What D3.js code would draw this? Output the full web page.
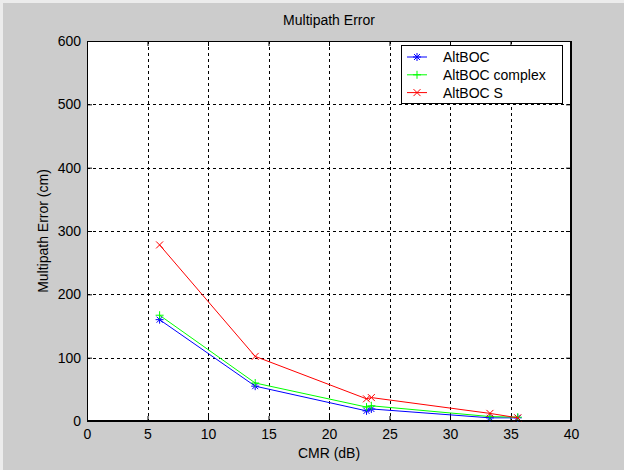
<!DOCTYPE html>
<html><head><meta charset="utf-8">
<script src="https://cdn.jsdelivr.net/npm/d3@7"></script>
<style>body{margin:0;background:#cccccc;}svg{display:block;}</style>
</head><body>
<script>
const cmr = [6.0, 13.9, 23.1, 23.5, 33.3, 35.6];
const altboc = [160, 55, 16, 19, 5, 5];
const altbocComplex = [167, 60, 22, 24, 7, 6];
const altbocS = [278, 102, 35, 37, 12, 5];
const seriesNames = ["AltBOC", "AltBOC complex", "AltBOC S"];
const xTicks = [0, 5, 10, 15, 20, 25, 30, 35, 40];
const yTicks = [0, 100, 200, 300, 400, 500, 600];

const W = 624, H = 470;
const m = {l: 87, r: 571, t: 41, b: 421};
const FONT = "'Liberation Sans', Arial, sans-serif";
const svg = d3.select("body").append("svg").attr("width", W).attr("height", H)
  .style("font-family", FONT);
svg.append("rect").attr("width", W).attr("height", H).attr("fill", "#cccccc");
svg.append("rect").attr("width", W).attr("height", 3).attr("fill", "#ececec");
svg.append("rect").attr("width", 3).attr("height", H).attr("fill", "#ececec");

const x = d3.scaleLinear().domain([0, 40]).range([m.l, m.r]);
const y = d3.scaleLinear().domain([0, 600]).range([m.b, m.t]);

svg.append("rect").attr("x", m.l).attr("y", m.t).attr("width", m.r - m.l).attr("height", m.b - m.t).attr("fill", "#fff");

// grid
const grid = svg.append("g").attr("stroke", "#000").attr("stroke-dasharray", "3,3").attr("stroke-width", 1);
xTicks.slice(1, -1).forEach(v => grid.append("line").attr("x1", Math.round(x(v)) + 0.5).attr("x2", Math.round(x(v)) + 0.5).attr("y1", m.t).attr("y2", m.b));
yTicks.slice(1, -1).forEach(v => grid.append("line").attr("y1", Math.round(y(v)) + 0.5).attr("y2", Math.round(y(v)) + 0.5).attr("x1", m.l).attr("x2", m.r));

// axes
const fs = 14;
const xAxB = svg.append("g").attr("transform", `translate(0,${m.b})`)
  .call(d3.axisBottom(x).tickValues(xTicks).tickSizeInner(-5).tickSizeOuter(0).tickPadding(8));
const xAxT = svg.append("g").attr("transform", `translate(0,${m.t})`)
  .call(d3.axisTop(x).tickValues(xTicks).tickSizeInner(-5).tickSizeOuter(0).tickFormat(""));
const yAxL = svg.append("g").attr("transform", `translate(${m.l},0)`)
  .call(d3.axisLeft(y).tickValues(yTicks).tickSizeInner(-5).tickSizeOuter(0).tickPadding(6));
const yAxR = svg.append("g").attr("transform", `translate(${m.r},0)`)
  .call(d3.axisRight(y).tickValues(yTicks).tickSizeInner(-5).tickSizeOuter(0).tickFormat(""));
[xAxB, xAxT, yAxL, yAxR].forEach(g => {
  g.selectAll("path,line").attr("stroke", "#000");
  g.selectAll("text").attr("fill", "#000").style("font-size", fs + "px").style("font-family", FONT);
});

// data lines
const data = [
  {name: seriesNames[0], vals: altboc, color: "#0000ff", marker: "star"},
  {name: seriesNames[1], vals: altbocComplex, color: "#00ff00", marker: "plus"},
  {name: seriesNames[2], vals: altbocS, color: "#ff0000", marker: "x"}
];
const line = d3.line().x((d, i) => x(cmr[i])).y(d => y(d));
const s = 4;
function marker(g, cx, cy, type, color) {
  const p = [];
  if (type === "plus" || type === "star") { p.push([cx - s, cy, cx + s, cy], [cx, cy - s, cx, cy + s]); }
  if (type === "x" || type === "star") { const k = type === "star" ? 3 : 3.5; p.push([cx - k, cy - k, cx + k, cy + k], [cx - k, cy + k, cx + k, cy - k]); }
  p.forEach(q => g.append("line").attr("x1", q[0]).attr("y1", q[1]).attr("x2", q[2]).attr("y2", q[3]).attr("stroke", color).attr("stroke-width", 1));
}
data.forEach(ser => {
  const g = svg.append("g");
  g.append("path").attr("d", line(ser.vals)).attr("fill", "none").attr("stroke", ser.color).attr("stroke-width", 1);
  ser.vals.forEach((v, i) => marker(g, x(cmr[i]), y(v), ser.marker, ser.color));
});

// frame
svg.append("rect").attr("x", m.l + 0.5).attr("y", m.t + 0.5).attr("width", m.r - m.l - 1).attr("height", m.b - m.t - 1).attr("fill", "none").attr("stroke", "#000");

// legend
const lg = svg.append("g");
lg.append("rect").attr("x", 401.5).attr("y", 45.5).attr("width", 161).attr("height", 58).attr("fill", "#fff").attr("stroke", "#000");
data.forEach((ser, i) => {
  const yy = 57 + i * 17.8;
  lg.append("line").attr("x1", 407).attr("x2", 427).attr("y1", yy).attr("y2", yy).attr("stroke", ser.color);
  marker(lg, 417, yy, ser.marker, ser.color);
  lg.append("text").attr("x", 443).attr("y", yy + 5).text(ser.name).style("font-size", fs + "px").attr("fill", "#000");
});

// titles
svg.append("text").attr("x", (m.l + m.r) / 2).attr("y", 25).attr("text-anchor", "middle").style("font-size", fs + "px").text("Multipath Error");
svg.append("text").attr("x", (m.l + m.r) / 2).attr("y", 458).attr("text-anchor", "middle").style("font-size", fs + "px").text("CMR (dB)");
svg.append("text").attr("transform", `translate(48,${(m.t + m.b) / 2}) rotate(-90)`).attr("text-anchor", "middle").style("font-size", fs + "px").text("Multipath Error (cm)");
</script>
</body></html>
